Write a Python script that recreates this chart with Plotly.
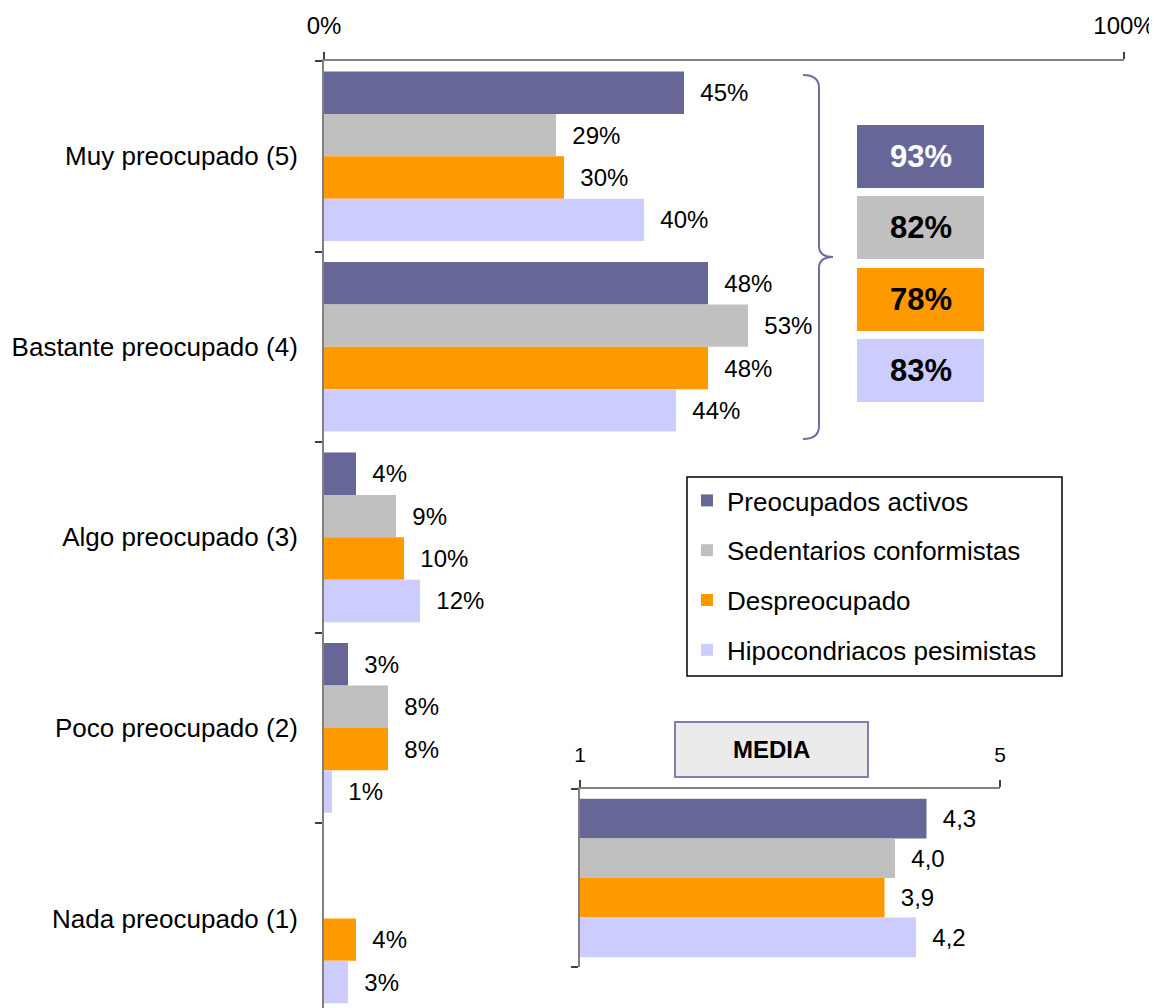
import plotly.graph_objects as go

categorias = ['Muy preocupado (5)', 'Bastante preocupado (4)', 'Algo preocupado (3)',
              'Poco preocupado (2)', 'Nada preocupado (1)']
series = ['Preocupados activos', 'Sedentarios conformistas', 'Despreocupado',
          'Hipocondriacos pesimistas']
colores = ['#666699', '#c0c0c0', '#ff9900', '#ccccff']

activos = [45, 48, 4, 3, 0]
sedentarios = [29, 53, 9, 8, 0]
despreocupado = [30, 48, 10, 8, 4]
hipocondriacos = [40, 44, 12, 1, 3]

media = [4.3, 4.0, 3.9, 4.2]
total_preocupados = [93, 82, 78, 83]

W, H = 1157, 1008
OFF = 8  # page body margin
X0, X1, Y0, Y1 = 324, 1124, 61, 1008  # plot area on the page
PW, PH = X1 - X0, Y1 - Y0


# page pixel -> paper helpers for the decorations
def px(x):
    return (x - X0) / PW


def py(y):
    return (Y1 - y) / PH


fig = go.Figure()

for nombre, valores, color in zip(series, [activos, sedentarios, despreocupado, hipocondriacos], colores):
    fig.add_trace(go.Bar(
        y=categorias, x=valores, orientation='h', name=nombre,
        marker=dict(color=color, line=dict(width=0)),
        text=['  %d%%' % v if v else '' for v in valores],
        textposition='outside', textfont=dict(size=24),
        legendgroup=nombre,
    ))

for nombre, valor, color in zip(series, media, colores):
    fig.add_trace(go.Bar(
        y=['MEDIA'], x=[valor], orientation='h', name=nombre,
        marker=dict(color=color, line=dict(width=0)),
        text=['  ' + ('%.1f' % valor).replace('.', ',')],
        textposition='outside', textfont=dict(size=24),
        xaxis='x2', yaxis='y2', showlegend=False, legendgroup=nombre,
    ))

eje = dict(showline=True, linecolor='#808080', linewidth=2, showgrid=False, zeroline=False,
           ticks='outside', ticklen=7, tickcolor='#404040', tickwidth=1.5)

shapes = []
annotations = []

# boxes with totals (muy + bastante)
tops = [125, 196, 268, 339]
for top, total, color in zip(tops, total_preocupados, colores):
    shapes.append(dict(type='rect', xref='paper', yref='paper', x0=px(857), x1=px(984),
                       y0=py(top), y1=py(top + 63), fillcolor=color, line=dict(width=0)))
    annotations.append(dict(xref='paper', yref='paper', x=px(920.5), y=py(top + 31.5),
                            xanchor='center', yanchor='middle',
                            text='<b>%d%%</b>' % total, showarrow=False,
                            font=dict(size=31, color='white' if color == '#666699' else 'black')))

# curly brace
brace = ('M %f,%f Q %f,%f %f,%f L %f,%f Q %f,%f %f,%f Q %f,%f %f,%f L %f,%f Q %f,%f %f,%f' % (
    px(803), py(75), px(819), py(75), px(819), py(88),
    px(819), py(246), px(819), py(257), px(833), py(257),
    px(819), py(257), px(819), py(268),
    px(819), py(426), px(819), py(439), px(803), py(439)))
shapes.append(dict(type='path', xref='paper', yref='paper', path=brace,
                   line=dict(color='#6d6d9f', width=2)))

# legend frame
shapes.append(dict(type='rect', xref='paper', yref='paper', x0=px(687), x1=px(1062),
                   y0=py(477), y1=py(676), line=dict(color='black', width=1.5)))

# MEDIA box
shapes.append(dict(type='rect', xref='paper', yref='paper', x0=px(675), x1=px(868),
                   y0=py(722), y1=py(777), fillcolor='#ebebeb', line=dict(color='#7f7fb0', width=2)))
annotations.append(dict(xref='paper', yref='paper', x=px(771.5), y=py(749.5), text='<b>MEDIA</b>',
                        xanchor='center', yanchor='middle',
                        showarrow=False, font=dict(size=24, color='black')))

fig.update_layout(
    width=W, height=H,
    margin=dict(l=X0 - OFF, r=W - X1 + OFF, t=Y0 - OFF, b=H - Y1 + OFF),
    barmode='group', bargap=0.11, bargroupgap=0,
    plot_bgcolor='white', paper_bgcolor='white',
    font=dict(family='Liberation Sans, Arial, sans-serif', size=24, color='black'),
    xaxis=dict(eje, side='top', range=[0, 100], tickvals=[0, 100], ticktext=['0%', '100%'],
               tickfont=dict(size=24), ticklabelstandoff=8, automargin=False),
    yaxis=dict(eje, type='category', categoryorder='array', categoryarray=categorias,
               range=[4.47, -0.5], tickson='boundaries', tickfont=dict(size=26),
               ticklabelstandoff=19, automargin=False),
    xaxis2=dict(eje, domain=[px(580), px(1000)], anchor='y2', side='top', range=[1, 5],
                tickvals=[1, 5], tickfont=dict(size=21), ticklabelstandoff=10, automargin=False),
    yaxis2=dict(eje, domain=[py(967), py(789)], anchor='x2', type='category',
                range=[0.5, -0.5], tickson='boundaries', showticklabels=False, automargin=False),
    legend=dict(x=px(687), y=py(477), xanchor='left', yanchor='top',
                font=dict(size=26), traceorder='grouped', tracegroupgap=13,
                bgcolor='rgba(0,0,0,0)', borderwidth=0),
    shapes=shapes,
    annotations=annotations,
)

fig.write_html('out.html')
